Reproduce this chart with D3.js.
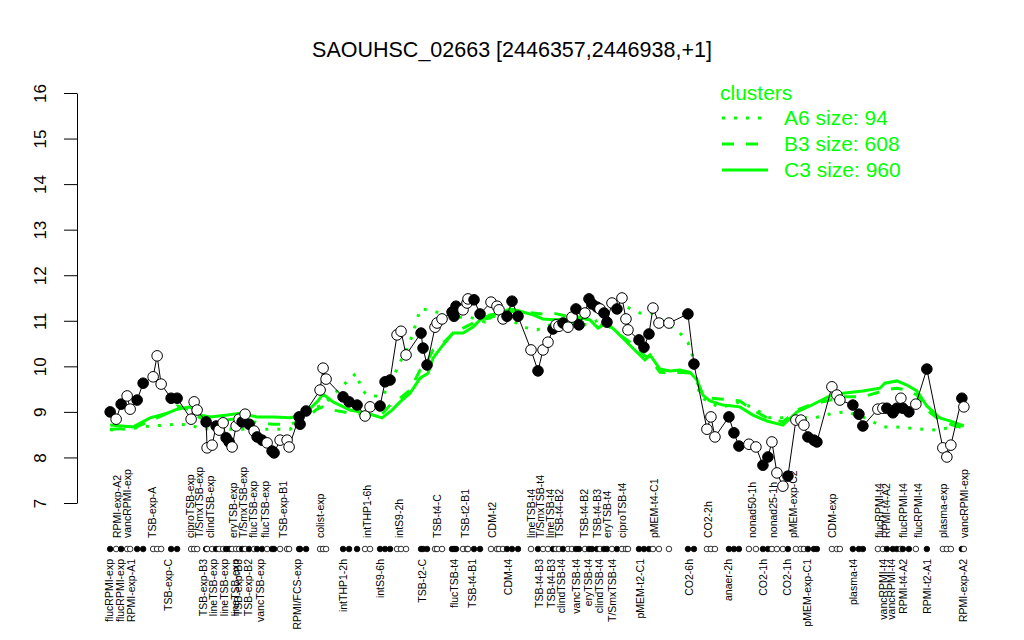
<!DOCTYPE html>
<html><head><meta charset="utf-8">
<script src="https://cdn.jsdelivr.net/npm/d3@7"></script>
<style>body{margin:0;background:#fff}svg{display:block;font-family:"Liberation Sans",Arial,Helvetica,sans-serif}</style>
</head><body><svg id="c" width="1024" height="640"></svg>
<script>
const title = "SAOUHSC_02663 [2446357,2446938,+1]";
const yTicks = [7,8,9,10,11,12,13,14,15,16];

// sample positions along the condition axis, expression values, filled (1) / open (0)
const samplePos = [10,16,21,27,30,37,43,53,57,61, 71,77,91,94,97,106,107,112,116,119,
 123,126,129,132,136,139,142,145,149,154, 157,162,167,172,174,180,187,189,199,200,
 206,220,223,226,243,249,257,265,270,280, 285,290,297,301,306,321,323,327,335,337,
 342,352,354,356,363,367,368,374,380,391, 397,399,403,407,412,418,431,438,443,448,
 453,456,459,463,468,472,476,479,485,489, 492,497,500,504,507,512,517,522,526,528,
 539,544,549,553,559,569,588,594,607,611, 615,629,634,639,649,656,663,668,672,677,
 683,688,696,701,704,708,714,717,732,737, 740,753,759,763,778,783,787,793,797,801,
 803,809,816,827,843,847,851,862,864];
const sampleVal = [9.00,8.84,9.17,9.35,9.06,9.26,9.63,9.77,10.23,9.61, 9.30,9.30,8.84,9.22,9.04,8.78,8.21,8.27,8.69,8.60,
 8.76,8.43,8.34,8.23,8.69,8.84,8.78,8.95,8.73,8.58, 8.45,8.38,8.32,8.14,8.10,8.38,8.38,8.23,8.89,8.73,
 9.02,9.48,9.96,9.72,9.33,9.22,9.15,8.91,9.11,9.13, 9.66,9.70,10.69,10.77,10.25,10.73,10.40,10.03,10.86,10.95,
 11.04,11.19,11.10,11.32,11.24,11.39,11.48,11.46,11.15,11.41, 11.32,11.24,11.04,11.10,11.43,11.10,10.36,9.90,10.36,10.53,
 10.82,10.91,10.88,10.95,10.86,11.08,11.26,10.91,11.17,11.48, 11.37,11.30,11.26,11.17,10.97,11.39,11.26,11.50,11.04,10.80,
 10.58,10.42,10.71,11.28,10.95,10.95,11.15,10.05,8.62,8.89, 8.45,8.89,8.54,8.25,8.29,8.23,7.83,8.01,8.34,7.66,
 7.37,7.59,8.82,8.82,8.71,8.45,8.38,8.34,9.55,9.37, 9.26,9.15,8.95,8.69,9.06,9.08,9.08,8.98,9.08,9.30,
 9.08,9.00,9.17,9.94,8.21,8.01,8.27,9.30,9.11];
const sampleFilled = [1,0,1,0,0,1,1,0,0,0, 1,1,0,0,0,1,0,0,1,0,
 0,1,1,0,0,0,1,0,1,0, 1,1,0,1,1,0,0,0,1,1,
 1,0,0,0,1,1,1,0,0,1, 1,1,0,0,0,1,1,1,0,0,
 0,1,1,1,0,0,0,1,1,0, 0,0,0,1,1,1,0,1,0,0,
 1,0,0,1,0,0,1,1,0,1, 1,1,0,1,1,0,1,0,0,0,
 1,1,1,0,0,0,1,1,0,0, 0,1,1,1,0,0,1,1,0,0,
 0,1,0,0,0,1,1,1,0,0, 0,1,1,1,0,0,1,1,1,0,
 1,1,0,1,0,0,0,1,0];

// cluster profiles
const clusterPos = [10,33,50,67,77,90,100,110,127,140, 157,173,190,203,217,223,233,250,267,282,
 292,300,310,320,328,333,343,353,363,373, 380,390,400,410,420,433,443,453,467,480,
 490,498,507,517,527,537,545,550,560,570, 580,590,597,603,610,623,640,653,667,683,
 697,710,730,743,763,780,785,797,807,817, 827,840,853,864];
const c3Val = [8.71,8.67,8.87,8.97,9.06,9.11,8.93,8.89,8.93,8.97, 8.89,8.89,8.87,8.93,9.22,9.39,9.22,9.04,8.97,8.87,
 9.04,9.22,9.41,9.74,9.85,10.18,10.47,10.73,10.73,10.86, 11.02,11.13,11.17,11.26,11.21,11.13,11.04,11.02,11.04,11.06,
 11.02,10.84,10.95,10.75,10.53,10.31,10.14,10.25,9.94,9.90, 9.92,9.87,9.70,9.37,9.24,9.15,9.11,8.93,8.80,8.71,
 9.00,9.13,9.35,9.41,9.46,9.52,9.63,9.68,9.59,9.46, 9.13,8.87,8.78,8.69];
const b3Val = [8.62,8.64,8.80,8.97,9.13,9.04,8.87,8.82,8.82,8.87, 8.76,8.73,8.73,8.82,9.06,9.11,9.04,8.97,8.95,8.95,
 9.20,9.30,9.48,9.92,10.14,10.36,10.51,10.73,10.84,10.95, 11.02,11.06,11.19,11.21,11.19,11.17,11.15,11.17,11.10,11.08,
 11.02,10.91,10.91,10.73,10.58,10.40,10.23,10.18,9.87,9.85, 9.87,9.85,9.66,9.37,9.30,9.28,9.24,9.04,8.87,8.78,
 9.04,9.15,9.26,9.33,9.33,9.44,9.48,9.52,9.48,9.37, 9.04,8.82,8.71,8.64];
const a6Pos = [10,33,50,67,77,90,100,110,140,173, 190,203,217,223,233,243,250,256,262,267,
 282,292,300,310,317,320,328,340,360,370, 385,393,407,423,437,450,460,487,515,527,
 540,552,580,588,593,600,620,640,657,670, 690,715,733,747,763,783,797,823,837,853, 864];
const a6Val = [8.60,8.64,8.69,8.71,8.73,8.71,8.64,8.62,8.62,8.62, 8.62,8.87,9.11,9.15,9.37,9.59,9.72,9.85,9.48,9.37,
 9.33,9.70,10.09,10.53,11.02,11.26,11.24,11.17,11.08,11.08, 10.97,11.10,11.08,10.86,10.80,10.91,10.97,10.91,11.17,11.30,
 11.17,11.17,10.73,10.53,10.20,9.33,9.09,9.22,9.04,8.87, 8.87,8.87,8.97,9.00,8.89,8.67,8.67,8.62,8.60,8.67, 8.69];

const legendNames = ["A6 size: 94","B3 size: 608","C3 size: 960"];

const topLabelNames = ["RPMI-exp-A2","vancRPMI-exp","TSB-exp-A","ciproTSB-exp","T/SmxTSB-exp","clindTSB-exp","eryTSB-exp","T/SmxTSB-exp","flucTSB-exp","flucTSB-exp",
 "TSB-exp-B1","colist-exp","intTHP1-6h","intS9-2h","TSB-t4-C","TSB-t2-B1","CDM-t2","lineTSB-t4","T/SmxTSB-t4","lineTSB-t4",
 "TSB-t4-B2","TSB-t4-B2","TSB-t4-B3","eryTSB-t4","ciproTSB-t4","pMEM-t4-C1","CO2-2h","nonad50-1h","nonad25-1h","pMEM-exp-C2",
 "CDM-exp","flucRPMI-t4","RPMI-t4-A2","flucRPMI-t4","flucRPMI-t4","plasma-exp","vancRPMI-exp"];
const topLabelPos = [17,27,52,90,99,110,133,143,153,165, 183,220,267,299,337,365,392,431,440,450,
 459,484,497,507,522,554,608,652,673,693, 732,779,786,803,818,843,864];
const bottomLabelNames = ["flucRPMI-exp","flucRPMI-exp","RPMI-exp-A1","TSB-exp-C","TSB-exp-B3","lineTSB-exp","lineTSB-exp","lineTSB-exp","TSB-exp-B3","TSB-exp-B2",
 "vancTSB-exp","RPMI/FCS-exp","intTHP1-2h","intS9-6h","TSB-t2-C","flucTSB-t4","TSB-t4-B1","CDM-t4","TSB-t4-B3","TSB-t4-B3",
 "clindTSB-t4","vancTSB-t4","eryTSB-t4","clindTSB-t4","T/SmxTSB-t4","pMEM-t2-C1","CO2-6h","anaer-2h","CO2-1h","CO2-1h",
 "pMEM-exp-C1","plasma-t4","vancRPMI-t4","vancRPMI-t4","RPMI-t4-A2","RPMI-t2-A1","RPMI-exp-A2"];
const bottomLabelPos = [9,20,31,68,103,113,124,135,138,148, 160,197,243,280,322,354,372,408,439,451,
 461,476,488,499,512,540,589,628,663,687, 707,753,783,791,803,827,863];

const GREEN = "#00ff00";
const svg = d3.select("#c");

const ext = d3.extent(samplePos);
const pad = (ext[1]-ext[0])*0.04;
const x = d3.scaleLinear().domain([ext[0]-pad, ext[1]+pad]).range([76, 998]);
const y = d3.scaleLinear().domain([7,16]).range([503,93]);

// title
svg.append("text").attr("x",512).attr("y",57).attr("text-anchor","middle")
  .style("font-size","21.5px").text(title);

// y axis
const ax = svg.append("g").attr("transform","translate(77,0)")
  .call(d3.axisLeft(y).tickValues(yTicks).tickSize(13).tickSizeOuter(0).tickFormat(d3.format("d")));
ax.select(".domain").attr("stroke","#000");
ax.selectAll(".tick line").attr("stroke","#000");
ax.selectAll(".tick text").attr("transform","rotate(-90)").attr("x",0).attr("y",-31).attr("dy",0)
  .style("text-anchor","middle").style("font-size","17px").attr("fill","#000")
  .style("font-family","'Liberation Sans',Arial,sans-serif");

// cluster lines
function clusterLine(pos, vals, dash){
  const pts = pos.map((p,i)=>[p, vals[i]]);
  svg.append("path").datum(pts)
    .attr("d", d3.line().x(d=>x(d[0])).y(d=>y(d[1])))
    .attr("fill","none").attr("stroke",GREEN).attr("stroke-width",3)
    .attr("stroke-dasharray",dash);
}
clusterLine(a6Pos, a6Val, "3,9");
clusterLine(clusterPos, b3Val, "12,12");
clusterLine(clusterPos, c3Val, null);

// sample line and points
const samples = samplePos.map((p,i)=>({pos:p, val:sampleVal[i], filled:sampleFilled[i]}));
svg.append("path").datum(samples)
  .attr("d", d3.line().x(d=>x(d.pos)).y(d=>y(d.val)))
  .attr("fill","none").attr("stroke","#000").attr("stroke-width",1);
svg.append("g").selectAll("circle").data(samples).join("circle")
  .attr("cx",d=>x(d.pos)).attr("cy",d=>y(d.val)).attr("r",5.3)
  .attr("fill",d=>d.filled?"#000":"#fff").attr("stroke","#000").attr("stroke-width",1);

// bottom marker row
svg.append("g").selectAll("circle").data(samples).join("circle")
  .attr("cx",d=>x(d.pos)).attr("cy",549).attr("r",2.8)
  .attr("fill",d=>d.filled?"#000":"#fff").attr("stroke","#000").attr("stroke-width",0.8);

// labels
svg.append("g").selectAll("text").data(topLabelNames).join("text")
  .attr("transform",(d,i)=>`translate(${x(topLabelPos[i])},538) rotate(-90)`)
  .attr("dy","0.35em").attr("text-anchor","start").style("font-size","10.5px").text(d=>d);
svg.append("g").selectAll("text").data(bottomLabelNames).join("text")
  .attr("transform",(d,i)=>`translate(${x(bottomLabelPos[i])},559) rotate(-90)`)
  .attr("dy","0.35em").attr("text-anchor","end").style("font-size","10.5px").text(d=>d);

// legend
const lg = svg.append("g");
lg.append("text").attr("x",720).attr("y",100).attr("fill",GREEN).style("font-size","21px").text("clusters");
const dashes = ["3,9","12,12",null];
legendNames.forEach((n,i)=>{
  const yy = 118 + i*26;
  lg.append("line").attr("x1",722).attr("x2",768).attr("y1",yy).attr("y2",yy)
    .attr("stroke",GREEN).attr("stroke-width",3).attr("stroke-dasharray",dashes[i]);
  lg.append("text").attr("x",784).attr("y",yy).attr("dy","0.35em").attr("fill",GREEN)
    .style("font-size","21px").text(n);
});
</script></body></html>
